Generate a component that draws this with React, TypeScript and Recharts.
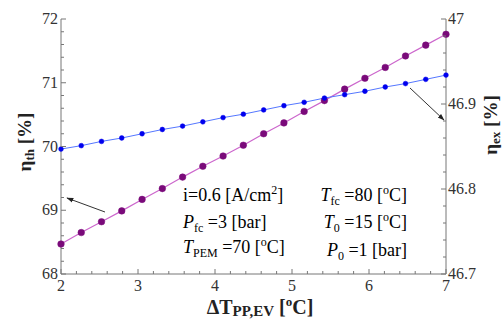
import { LineChart, Line, XAxis, YAxis } from 'recharts';

// x: ΔT_PP,EV [°C]
const deltaT = [2, 2.263, 2.526, 2.789, 3.053, 3.316, 3.579, 3.842, 4.105, 4.368, 4.632, 4.895, 5.158, 5.421, 5.684, 5.947, 6.211, 6.474, 6.737, 7];
// thermal efficiency (left axis)
const etaTh = [68.47, 68.65, 68.82, 68.99, 69.17, 69.34, 69.52, 69.69, 69.85, 70.02, 70.2, 70.37, 70.55, 70.72, 70.9, 71.07, 71.24, 71.42, 71.59, 71.76];
// exergy efficiency (right axis)
const etaEx = [46.847, 46.851, 46.856, 46.86, 46.865, 46.87, 46.874, 46.879, 46.884, 46.888, 46.893, 46.898, 46.902, 46.907, 46.911, 46.915, 46.92, 46.924, 46.929, 46.934];

const xTicks = [2, 2.2, 2.4, 2.6, 2.8, 3, 3.2, 3.4, 3.6, 3.8, 4, 4.2, 4.4, 4.6, 4.8, 5, 5.2, 5.4, 5.6, 5.8, 6, 6.2, 6.4, 6.6, 6.8, 7];
const xLabels = [2, 3, 4, 5, 6, 7];
const leftTicks = [68, 68.2, 68.4, 68.6, 68.8, 69, 69.2, 69.4, 69.6, 69.8, 70, 70.2, 70.4, 70.6, 70.8, 71, 71.2, 71.4, 71.6, 71.8, 72];
const leftLabels = [68, 69, 70, 71, 72];
const rightTicks = [46.7, 46.72, 46.74, 46.76, 46.78, 46.8, 46.82, 46.84, 46.86, 46.88, 46.9, 46.92, 46.94, 46.96, 46.98, 47];
const rightLabels = [46.7, 46.8, 46.9, 47];

const data = deltaT.map((x, i) => ({ x, th: etaTh[i], ex: etaEx[i] }));

const W = 502, H = 320;
const L = 61, R = 446, T = 19, B = 274;
const FONT = 'Liberation Serif, Times New Roman, Times, serif';
const FRAME = '#777';
const TXT = '#333';

const isLabel = (v: number, list: number[]) => list.some(l => Math.abs(l - v) < 1e-6);

const BottomTick = ({ x, payload }: any) => {
  const major = isLabel(payload.value, xLabels);
  return (
    <g>
      <line x1={x} x2={x} y1={B} y2={B - (major ? 5 : 3)} stroke={FRAME} />
      {major && <text x={x} y={291} textAnchor='middle' fontFamily={FONT} fontSize={16} fill={TXT}>{payload.value}</text>}
    </g>
  );
};

const TopTick = ({ x, payload }: any) => {
  const major = isLabel(payload.value, xLabels);
  return <line x1={x} x2={x} y1={T} y2={T + (major ? 5 : 3)} stroke={FRAME} />;
};

const LeftTick = ({ y, payload }: any) => {
  const major = isLabel(payload.value, leftLabels);
  return (
    <g>
      <line x1={L} x2={L + (major ? 5 : 3)} y1={y} y2={y} stroke={FRAME} />
      {major && <text x={L - 3} y={y + 5} textAnchor='end' fontFamily={FONT} fontSize={16} fill={TXT}>{payload.value}</text>}
    </g>
  );
};

const RightTick = ({ y, payload }: any) => {
  const major = isLabel(payload.value, rightLabels);
  return (
    <g>
      <line x1={R} x2={R - (major ? 5 : 3)} y1={y} y2={y} stroke={FRAME} />
      {major && <text x={R + 2} y={y + 5} textAnchor='start' fontFamily={FONT} fontSize={16} fill={TXT}>{payload.value}</text>}
    </g>
  );
};

export default function App() {
  return (
    <div style={{ position: 'absolute', left: 0, top: 0, width: W, height: H, background: '#fff' }}>
      <LineChart width={W} height={H} data={data} margin={{ top: T, right: W - R - 40, bottom: H - B - 30, left: L - 40 }}>
        <XAxis dataKey='x' type='number' domain={[2, 7]} ticks={xTicks} interval={0} height={30}
          axisLine={{ stroke: FRAME }} tickLine={false} tick={BottomTick} />
        <XAxis xAxisId='top' orientation='top' type='number' domain={[2, 7]} ticks={xTicks} interval={0} height={0}
          axisLine={{ stroke: FRAME }} tickLine={false} tick={TopTick} />
        <YAxis yAxisId='left' type='number' domain={[68, 72]} ticks={leftTicks} interval={0} width={40}
          axisLine={{ stroke: FRAME }} tickLine={false} tick={LeftTick} />
        <YAxis yAxisId='right' orientation='right' type='number' domain={[46.7, 47]} ticks={rightTicks} interval={0} width={40}
          axisLine={{ stroke: FRAME }} tickLine={false} tick={RightTick} />
        <Line yAxisId='left' dataKey='th' stroke='#cc66cc' strokeWidth={1.2}
          dot={{ r: 3.3, fill: '#7a0a7a', stroke: '#7a0a7a', strokeWidth: 0.5 }} isAnimationActive={false} />
        <Line yAxisId='right' dataKey='ex' stroke='#5577ff' strokeWidth={1}
          dot={{ r: 2.4, fill: '#0000ee', stroke: '#0000ee', strokeWidth: 0.5 }} isAnimationActive={false} />
      </LineChart>
      <svg width={W} height={H} style={{ position: 'absolute', left: 0, top: 0, pointerEvents: 'none' }}
        fontFamily={FONT}>
        <defs>
          <marker id='ah' viewBox='0 0 10 10' refX='9' refY='5' markerWidth='7' markerHeight='7' orient='auto'>
            <path d='M0,1.5 L10,5 L0,8.5 z' fill='#222' />
          </marker>
        </defs>
        <line x1={105} y1={212} x2={67} y2={198} stroke='#333' strokeWidth={1} markerEnd='url(#ah)' />
        <line x1={410} y1={88} x2={444} y2={120} stroke='#333' strokeWidth={1} markerEnd='url(#ah)' />

        {/* left column */}
        <text x={183} y={201} fontSize={18}>
          i=0.6 [A/cm<tspan fontSize={12} dy={-7}>2</tspan><tspan dy={7}>]</tspan>
        </text>
        <text x={183} y={228} fontSize={18}>
          <tspan fontStyle='italic'>P</tspan><tspan fontSize={12} dy={4}>fc</tspan><tspan dy={-4}> =3 [bar]</tspan>
        </text>
        <text x={183} y={253} fontSize={18}>
          <tspan fontStyle='italic'>T</tspan><tspan fontSize={12} dy={4}>PEM</tspan><tspan dy={-4}> =70 [</tspan>
          <tspan fontSize={12} dy={-7}>o</tspan><tspan dy={7}>C]</tspan>
        </text>

        {/* right column */}
        <text x={407} y={201} fontSize={18} textAnchor='end'>
          <tspan fontStyle='italic'>T</tspan><tspan fontSize={12} dy={4}>fc</tspan><tspan dy={-4}> =80 [</tspan>
          <tspan fontSize={12} dy={-7}>o</tspan><tspan dy={7}>C]</tspan>
        </text>
        <text x={407} y={228} fontSize={18} textAnchor='end'>
          <tspan fontStyle='italic'>T</tspan><tspan fontSize={12} dy={4}>0</tspan><tspan dy={-4}> =15 [</tspan>
          <tspan fontSize={12} dy={-7}>o</tspan><tspan dy={7}>C]</tspan>
        </text>
        <text x={407} y={256} fontSize={18} textAnchor='end'>
          <tspan fontStyle='italic'>P</tspan><tspan fontSize={12} dy={4}>0</tspan><tspan dy={-4}> =1 [bar]</tspan>
        </text>

        {/* axis titles */}
        <text x={260} y={314} textAnchor='middle' fontWeight='bold' fontSize={20} fill='#222'>
          ΔT<tspan fontSize={15} dy={2}>PP,EV</tspan><tspan dy={-2}> [</tspan>
          <tspan fontSize={13} dy={-8}>o</tspan><tspan dy={8}>C]</tspan>
        </text>
        <text transform='translate(31,142) rotate(-90)' textAnchor='middle' fontWeight='bold' fontSize={19} fill='#222'>
          η<tspan fontSize={13} dy={3}>th</tspan><tspan dy={-3}> [%]</tspan>
        </text>
        <text transform='translate(497,125) rotate(-90)' textAnchor='middle' fontWeight='bold' fontSize={19} fill='#222'>
          η<tspan fontSize={13} dy={3}>ex</tspan><tspan dy={-3}> [%]</tspan>
        </text>
      </svg>
    </div>
  );
}
